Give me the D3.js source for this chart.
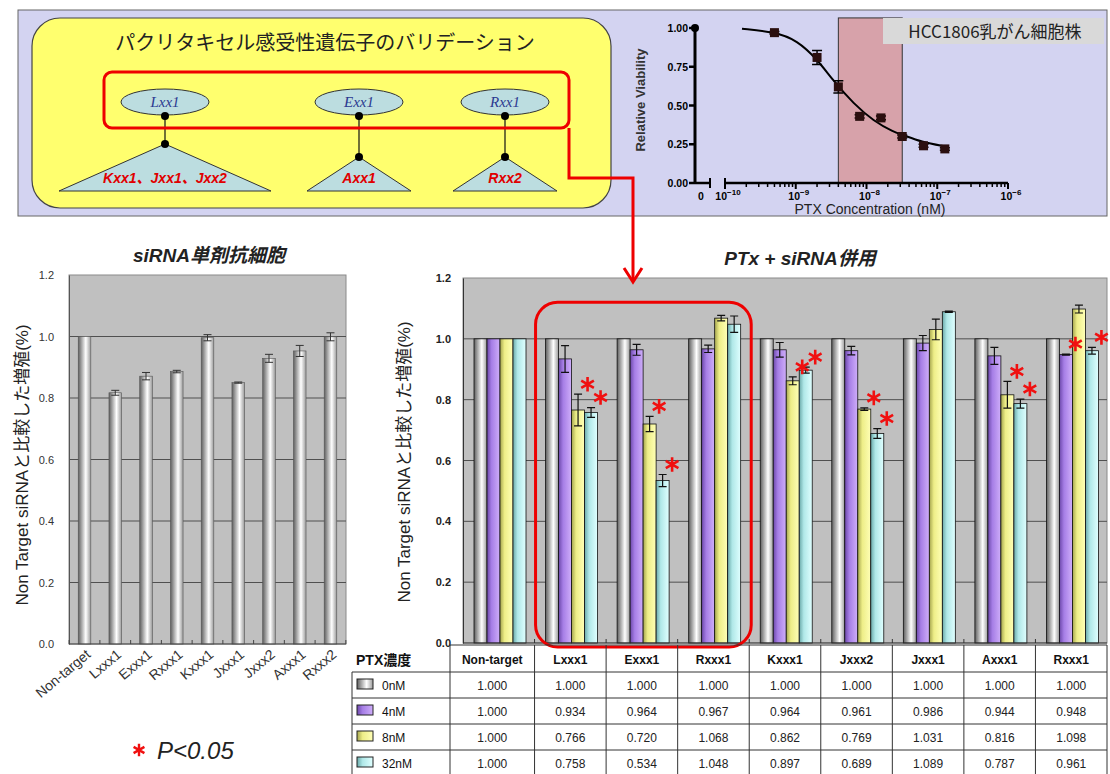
<!DOCTYPE html>
<html>
<head>
<meta charset="utf-8">
<script src="https://cdn.jsdelivr.net/npm/d3@7"></script>
<style>
  body { margin: 0; background: #fff; }
  svg { display: block; font-family: "Liberation Sans", Arial, "Noto Sans CJK JP", sans-serif; }
</style>
</head>
<body>
<div id="chart"></div>
<script>
// ---- data ----

// tree diagram
var geneNames = ["Lxx1", "Exx1", "Rxx1"]
var geneTargets = ["Kxx1、Jxx1、Jxx2", "Axx1", "Rxx2"]

// dose response (HCC1806), concentrations in M
var doseConc = [0.5e-9, 2e-9, 4e-9, 8e-9, 16e-9, 32e-9, 64e-9, 128e-9]
var doseViability = [0.97, 0.81, 0.62, 0.43, 0.42, 0.30, 0.24, 0.22]
var doseErr = [0.008, 0.045, 0.04, 0.01, 0.012, 0.01, 0.01, 0.008]
var controlViability = 1.0
var fitLogConc = [-9.76, -9.29, -8.98, -8.70, -8.47, -8.18, -7.90, -7.62, -7.48, -7.23, -6.88]
var fitViability = [0.995, 0.975, 0.92, 0.80, 0.66, 0.51, 0.40, 0.33, 0.31, 0.265, 0.235]
var bandConc = [4e-9, 32e-9]
var doseTicks = [-10, -9, -8, -7, -6]

// siRNA alone
var soloCats = ["Non-target", "Lxxx1", "Exxx1", "Rxxx1", "Kxxx1", "Jxxx1", "Jxxx2", "Axxx1", "Rxxx2"]
var soloValues = [1.0, 0.817, 0.871, 0.886, 0.996, 0.85, 0.929, 0.953, 0.999]
var soloErrors = [0, 0.008, 0.012, 0.004, 0.01, 0.002, 0.013, 0.018, 0.013]

// PTX + siRNA
var comboCats = ["Non-target", "Lxxx1", "Exxx1", "Rxxx1", "Kxxx1", "Jxxx2", "Jxxx1", "Axxx1", "Rxxx1"]
var doseLabels = ["0nM", "4nM", "8nM", "32nM"]
var ptx0 = [1.000, 1.000, 1.000, 1.000, 1.000, 1.000, 1.000, 1.000, 1.000]
var ptx4 = [1.000, 0.934, 0.964, 0.967, 0.964, 0.961, 0.986, 0.944, 0.948]
var ptx8 = [1.000, 0.766, 0.720, 1.068, 0.862, 0.769, 1.031, 0.816, 1.098]
var ptx32 = [1.000, 0.758, 0.534, 1.048, 0.897, 0.689, 1.089, 0.787, 0.961]
var err0 = [0, 0, 0, 0, 0, 0, 0, 0, 0]
var err4 = [0, 0.044, 0.018, 0.012, 0.024, 0.014, 0.025, 0.028, 0.002]
var err8 = [0, 0.052, 0.025, 0.009, 0.013, 0.004, 0.034, 0.044, 0.013]
var err32 = [0, 0.016, 0.02, 0.027, 0.01, 0.016, 0.002, 0.015, 0.011]
// [category index, series index] of the red asterisks
var sigMarks = [[1, 2], [1, 3], [2, 2], [2, 3], [4, 2], [4, 3], [5, 2], [5, 3], [7, 2], [7, 3], [8, 1], [8, 3]]

var yTicks = [0, 0.2, 0.4, 0.6, 0.8, 1.0, 1.2]

var series = [ptx0, ptx4, ptx8, ptx32]
var seriesErr = [err0, err4, err8, err32]

var svg = d3.select('#chart').append('svg')
            .attr('width', 1110)
            .attr('height', 774)
var defs = svg.append('defs')

function addGrad(id, stops) {
  var g = defs.append('linearGradient').attr('id', id)
              .attr('x1', '0').attr('x2', '1').attr('y1', '0').attr('y2', '0')
  stops.forEach(function(s) {
    g.append('stop').attr('offset', s[0]).attr('stop-color', s[1])
  })
}
addGrad('g-gray', [[0, '#5e5e5e'], [0.6, '#ffffff'], [1, '#9a9a9a']])
addGrad('g-purple', [[0, '#6c48aa'], [0.35, '#a67ee6'], [1, '#cfaefa']])
addGrad('g-yellow', [[0, '#a5a54e'], [0.35, '#eeee88'], [1, '#ffffb6']])
addGrad('g-cyan', [[0, '#6aa9a9'], [0.35, '#b0e8e8'], [1, '#e0ffff']])
var seriesFill = ['url(#g-gray)', 'url(#g-purple)', 'url(#g-yellow)', 'url(#g-cyan)']

function errPath(x, y1, y2, w) {
  return 'M' + x + ',' + y1 + 'V' + y2 + 'M' + (x - w) + ',' + y1 + 'H' + (x + w) +
         'M' + (x - w) + ',' + y2 + 'H' + (x + w)
}

// ---------------- top panel ----------------
svg.append('rect')
   .attr('x', 18).attr('y', 10).attr('width', 1089).attr('height', 206)
   .attr('fill', '#d3d3f1').attr('stroke', '#666')

svg.append('rect')
   .attr('x', 32).attr('y', 18).attr('width', 579).attr('height', 190).attr('rx', 28)
   .attr('fill', '#ffff6e').attr('stroke', '#444').attr('stroke-width', 1.2)

svg.append('text')
   .attr('x', 325).attr('y', 50)
   .attr('text-anchor', 'middle')
   .style('font-family', '"Noto Sans CJK JP", sans-serif')
   .style('font-size', '20px').attr('fill', '#222')
   .text('パクリタキセル感受性遺伝子のバリデーション')

var treeX = [165, 359, 505]
var treeApex = [144, 157, 157]
var treeHalf = [106, 52, 52]

var tree = svg.selectAll('.tree')
              .data(geneNames)
              .enter().append('g')
              .attr('class', 'tree')

tree.append('line')
    .attr('x1', function(d, i) { return treeX[i] })
    .attr('x2', function(d, i) { return treeX[i] })
    .attr('y1', 115).attr('y2', function(d, i) { return treeApex[i] })
    .attr('stroke', '#111').attr('stroke-width', 1.2)

tree.append('path')
    .attr('d', function(d, i) {
      return 'M' + treeX[i] + ',' + treeApex[i] + 'L' + (treeX[i] + treeHalf[i]) + ',191L' +
             (treeX[i] - treeHalf[i]) + ',191Z'
    })
    .attr('fill', '#bcdde0').attr('stroke', '#333')

tree.append('ellipse')
    .attr('cx', function(d, i) { return treeX[i] })
    .attr('cy', 102).attr('rx', 44).attr('ry', 13)
    .attr('fill', '#bcdde0').attr('stroke', '#333')

tree.append('text')
    .attr('x', function(d, i) { return treeX[i] })
    .attr('y', 107)
    .attr('text-anchor', 'middle')
    .style('font-family', '"Liberation Serif", serif')
    .style('font-style', 'italic').style('font-size', '15px')
    .attr('fill', '#2b3990')
    .text(function(d) { return d })

tree.append('circle')
    .attr('cx', function(d, i) { return treeX[i] }).attr('cy', 116).attr('r', 4).attr('fill', '#000')
tree.append('circle')
    .attr('cx', function(d, i) { return treeX[i] }).attr('cy', function(d, i) { return treeApex[i] })
    .attr('r', 4).attr('fill', '#000')

tree.append('text')
    .attr('x', function(d, i) { return treeX[i] })
    .attr('y', 183)
    .attr('text-anchor', 'middle')
    .style('font-style', 'italic').style('font-weight', 'bold').style('font-size', '14px')
    .attr('fill', '#e00000')
    .text(function(d, i) { return geneTargets[i] })

// red frame
svg.append('rect')
   .attr('x', 104).attr('y', 72).attr('width', 465).attr('height', 56).attr('rx', 8)
   .attr('fill', 'none').attr('stroke', '#ee0000').attr('stroke-width', 3)

// ---------------- dose response ----------------
var dx = d3.scaleLog().domain([1e-10, 1e-6]).range([725, 1008])
var dy = d3.scaleLinear().domain([0, 1]).range([183, 28])

svg.append('rect')
   .attr('x', dx(bandConc[0])).attr('y', dy(1.065))
   .attr('width', dx(bandConc[1]) - dx(bandConc[0]))
   .attr('height', dy(0) - dy(1.065))
   .attr('fill', '#d7a2aa').attr('stroke', '#333')

svg.append('rect')
   .attr('x', 883).attr('y', 18).attr('width', 221).attr('height', 26)
   .attr('fill', '#d9d9d9')
svg.append('text')
   .attr('x', 995).attr('y', 38).attr('text-anchor', 'middle')
   .style('font-family', '"Noto Sans CJK JP", sans-serif').style('font-size', '17px')
   .attr('fill', '#222')
   .text('HCC1806乳がん細胞株')

// y axis
svg.append('line')
   .attr('x1', 695).attr('x2', 695).attr('y1', dy(1)).attr('y2', dy(0))
   .attr('stroke', '#000').attr('stroke-width', 3)
var dyt = svg.selectAll('.dyt').data([0, 0.25, 0.5, 0.75, 1]).enter().append('g').attr('class', 'dyt')
dyt.append('line')
   .attr('x1', 689).attr('x2', 695)
   .attr('y1', function(d) { return dy(d) }).attr('y2', function(d) { return dy(d) })
   .attr('stroke', '#000').attr('stroke-width', 2.5)
dyt.append('text')
   .attr('x', 688).attr('y', function(d) { return dy(d) + 4 })
   .attr('text-anchor', 'end')
   .style('font-weight', 'bold').style('font-size', '10.5px')
   .text(function(d) { return d3.format('.2f')(d) })

svg.append('text')
   .attr('transform', 'translate(645,100) rotate(-90)')
   .attr('text-anchor', 'middle')
   .style('font-weight', 'bold').style('font-size', '13px').attr('fill', '#333')
   .text('Relative Viability')

// x axis (with break after zero)
svg.append('line').attr('x1', 695).attr('x2', 710).attr('y1', 183).attr('y2', 183)
   .attr('stroke', '#000').attr('stroke-width', 2.5)
svg.append('line').attr('x1', 710).attr('x2', 710).attr('y1', 178).attr('y2', 188)
   .attr('stroke', '#000').attr('stroke-width', 2)
svg.append('line').attr('x1', dx.range()[0]).attr('x2', dx.range()[1]).attr('y1', 183).attr('y2', 183)
   .attr('stroke', '#000').attr('stroke-width', 2.5)
svg.append('line').attr('x1', 725).attr('x2', 725).attr('y1', 178).attr('y2', 188)
   .attr('stroke', '#000').attr('stroke-width', 2)

var minorTicks = []
doseTicks.slice(0, -1).forEach(function(e) {
  for (var m = 2; m <= 9; m++) minorTicks.push(m * Math.pow(10, e))
})
svg.selectAll('.dminor').data(minorTicks).enter().append('line')
   .attr('x1', function(d) { return dx(d) }).attr('x2', function(d) { return dx(d) })
   .attr('y1', 183).attr('y2', 187)
   .attr('stroke', '#000').attr('stroke-width', 1.5)
svg.selectAll('.dmajor').data(doseTicks).enter().append('line')
   .attr('x1', function(d) { return dx(Math.pow(10, d)) }).attr('x2', function(d) { return dx(Math.pow(10, d)) })
   .attr('y1', 183).attr('y2', 189)
   .attr('stroke', '#000').attr('stroke-width', 2)

var dxl = svg.selectAll('.dxl').data(doseTicks).enter().append('text')
   .attr('x', function(d) { return dx(Math.pow(10, d)) + 3 })
   .attr('y', 200)
   .attr('text-anchor', 'middle')
   .style('font-weight', 'bold').style('font-size', '10.5px')
dxl.append('tspan').text('10')
dxl.append('tspan').attr('dy', -5).style('font-size', '8px').text(function(d) { return '−' + (-d) })
svg.append('text').attr('x', 701).attr('y', 200).attr('text-anchor', 'middle')
   .style('font-weight', 'bold').style('font-size', '10.5px').text('0')

svg.append('text')
   .attr('x', 870).attr('y', 214).attr('text-anchor', 'middle')
   .style('font-size', '14px').attr('fill', '#222')
   .text('PTX Concentration (nM)')

// fitted curve
var fitLine = d3.line()
                .x(function(d, i) { return dx(Math.pow(10, fitLogConc[i])) })
                .y(function(d) { return dy(d) })
                .curve(d3.curveBasis)
svg.append('path')
   .attr('d', fitLine(fitViability))
   .attr('fill', 'none').attr('stroke', '#000').attr('stroke-width', 2)

var dpt = svg.selectAll('.dpt').data(doseViability).enter().append('g').attr('class', 'dpt')
dpt.append('path')
   .attr('d', function(d, i) {
     return errPath(dx(doseConc[i]), dy(d + doseErr[i]), dy(d - doseErr[i]), 5)
   })
   .attr('stroke', '#000').attr('stroke-width', 1.5)
dpt.append('rect')
   .attr('x', function(d, i) { return dx(doseConc[i]) - 4.5 })
   .attr('y', function(d) { return dy(d) - 4.5 })
   .attr('width', 9).attr('height', 9)
   .attr('fill', '#2b0f0f')
svg.append('circle').attr('cx', 695).attr('cy', dy(controlViability)).attr('r', 4).attr('fill', '#000')

// ---------------- left chart: siRNA alone ----------------
var lx = d3.scaleBand().domain(soloCats).range([69, 346]).paddingInner(0.59).paddingOuter(0.3)
var ly = d3.scaleLinear().domain([0, 1.2]).range([644, 275])

svg.append('rect')
   .attr('x', 69).attr('y', ly(1.2)).attr('width', 277).attr('height', ly(0) - ly(1.2))
   .attr('fill', '#c0c0c0').attr('stroke', '#8a8a8a')

svg.selectAll('.lgrid').data(yTicks.slice(1, -1)).enter().append('line')
   .attr('x1', 69).attr('x2', 346)
   .attr('y1', function(d) { return ly(d) }).attr('y2', function(d) { return ly(d) })
   .attr('stroke', '#505050')

svg.append('g')
   .attr('transform', 'translate(69,0)')
   .call(d3.axisLeft(ly).tickValues(yTicks).tickSize(0).tickPadding(15).tickFormat(d3.format('.1f')))
   .call(function(g) { g.select('.domain').attr('stroke', '#555') })
   .selectAll('text').style('font-size', '11px').attr('fill', '#333')

var solo = soloCats.map(function(c, i) { return { cat: c, v: soloValues[i], e: soloErrors[i] } })

svg.selectAll('.lbar').data(solo).enter().append('rect')
   .attr('x', function(d) { return lx(d.cat) })
   .attr('y', function(d) { return ly(d.v) })
   .attr('width', lx.bandwidth())
   .attr('height', function(d) { return ly(0) - ly(d.v) })
   .attr('fill', 'url(#g-gray)').attr('stroke', '#555').attr('stroke-width', 0.6)

svg.selectAll('.lerr').data(solo.filter(function(d) { return d.e > 0 })).enter().append('path')
   .attr('d', function(d) {
     return errPath(lx(d.cat) + lx.bandwidth() / 2, ly(d.v + d.e), ly(d.v - d.e), 4)
   })
   .attr('fill', 'none').attr('stroke', '#333').attr('stroke-width', 1)

svg.append('line').attr('x1', 69).attr('x2', 346).attr('y1', ly(0)).attr('y2', ly(0))
   .attr('stroke', '#444')
svg.selectAll('.ltick').data(d3.range(soloCats.length + 1)).enter().append('line')
   .attr('x1', function(d) { return lx(soloCats[0]) - lx.step() * lx.paddingInner() / 2 + d * lx.step() })
   .attr('x2', function(d) { return lx(soloCats[0]) - lx.step() * lx.paddingInner() / 2 + d * lx.step() })
   .attr('y1', ly(0)).attr('y2', ly(0) - 4)
   .attr('stroke', '#444')

svg.selectAll('.lxl').data(soloCats).enter().append('text')
   .attr('transform', function(d) {
     return 'translate(' + (lx(d) + lx.bandwidth() / 2 + 7) + ',' + (ly(0) + 12) + ') rotate(-40)'
   })
   .attr('text-anchor', 'end')
   .style('font-size', '14px').attr('fill', '#333')
   .text(function(d) { return d })

svg.append('text')
   .attr('transform', 'translate(28,465) rotate(-90)')
   .attr('text-anchor', 'middle')
   .style('font-size', '17px').attr('fill', '#222')
   .text('Non Target siRNAと比較した増殖(%)')

svg.append('text')
   .attr('x', 209).attr('y', 262).attr('text-anchor', 'middle')
   .style('font-weight', 'bold').style('font-style', 'italic').style('font-size', '19px')
   .attr('fill', '#222')
   .text('siRNA単剤抗細胞')

// ---------------- right chart: PTX + siRNA ----------------
var gx = d3.scaleBand().domain(d3.range(comboCats.length)).range([463, 1107])
var bx = d3.scaleBand().domain(d3.range(doseLabels.length)).range([11, 63])
var ry = d3.scaleLinear().domain([0, 1.2]).range([643, 278])

svg.append('rect')
   .attr('x', 463).attr('y', ry(1.2)).attr('width', 644).attr('height', ry(0) - ry(1.2))
   .attr('fill', '#c0c0c0').attr('stroke', '#8a8a8a')

svg.selectAll('.rgrid').data(yTicks.slice(1, -1)).enter().append('line')
   .attr('x1', 463).attr('x2', 1107)
   .attr('y1', function(d) { return ry(d) }).attr('y2', function(d) { return ry(d) })
   .attr('stroke', '#505050')

svg.append('g')
   .attr('transform', 'translate(463,0)')
   .call(d3.axisLeft(ry).tickValues(yTicks).tickSize(0).tickPadding(12).tickFormat(d3.format('.1f')))
   .call(function(g) { g.select('.domain').attr('stroke', '#333') })
   .selectAll('text').style('font-size', '11px').style('font-weight', 'bold').attr('fill', '#222')

var groups = svg.selectAll('.grp')
                .data(comboCats)
                .enter().append('g')
                .attr('class', 'grp')
                .attr('transform', function(d, i) { return 'translate(' + gx(i) + ',0)' })

function groupData(d, i) {
  return series.map(function(s, k) { return { k: k, v: s[i], e: seriesErr[k][i] } })
}

groups.selectAll('rect')
      .data(groupData)
      .enter().append('rect')
      .attr('x', function(d) { return bx(d.k) })
      .attr('y', function(d) { return ry(d.v) })
      .attr('width', bx.bandwidth())
      .attr('height', function(d) { return ry(0) - ry(d.v) })
      .attr('fill', function(d) { return seriesFill[d.k] })
      .attr('stroke', '#111').attr('stroke-width', 0.8)

groups.selectAll('path')
      .data(function(d, i) { return groupData(d, i).filter(function(b) { return b.e > 0 }) })
      .enter().append('path')
      .attr('d', function(d) {
        return errPath(bx(d.k) + bx.bandwidth() / 2, ry(d.v + d.e), ry(d.v - d.e), 4)
      })
      .attr('fill', 'none').attr('stroke', '#111').attr('stroke-width', 1.2)

svg.append('line').attr('x1', 463).attr('x2', 1107).attr('y1', ry(0)).attr('y2', ry(0))
   .attr('stroke', '#333')
svg.selectAll('.rtick').data(d3.range(1, comboCats.length)).enter().append('line')
   .attr('x1', function(d) { return gx(d) }).attr('x2', function(d) { return gx(d) })
   .attr('y1', ry(0)).attr('y2', ry(0) - 4)
   .attr('stroke', '#333')

var star = d3.symbol().type(d3.symbolAsterisk).size(150)
svg.selectAll('.sig').data(sigMarks).enter().append('path')
   .attr('d', star)
   .attr('transform', function(d) {
     var v = series[d[1]][d[0]], e = seriesErr[d[1]][d[0]]
     return 'translate(' + (gx(d[0]) + bx(d[1]) + bx.bandwidth() + 3) + ',' + (ry(v + e) - 10) + ')'
   })
   .attr('fill', 'none').attr('stroke', '#f01010').attr('stroke-width', 2.6)

// red highlight around Lxxx1..Rxxx1
svg.append('rect')
   .attr('x', gx(1) + 1).attr('y', ry(1.12))
   .attr('width', gx(4) - gx(1) + 1).attr('height', ry(0) + 4 - ry(1.12))
   .attr('rx', 22)
   .attr('fill', 'none').attr('stroke', '#ee0000').attr('stroke-width', 3)

svg.append('text')
   .attr('transform', 'translate(410,462) rotate(-90)')
   .attr('text-anchor', 'middle')
   .style('font-size', '17px').attr('fill', '#222')
   .text('Non Target siRNAと比較した増殖(%)')

svg.append('text')
   .attr('x', 800).attr('y', 265).attr('text-anchor', 'middle')
   .style('font-weight', 'bold').style('font-style', 'italic').style('font-size', '19px')
   .attr('fill', '#222')
   .text('PTx + siRNA併用')

// connector from the red frame down to the combination chart
svg.append('path')
   .attr('d', 'M569,128V178H633V281')
   .attr('fill', 'none').attr('stroke', '#ee0000').attr('stroke-width', 3)
svg.append('path')
   .attr('d', 'M624,268L633,282L642,268')
   .attr('fill', 'none').attr('stroke', '#ee0000').attr('stroke-width', 3)

// ---------------- data table ----------------
var colEdges = [450].concat(d3.range(1, comboCats.length).map(function(i) { return gx(i) })).concat([1107])
var rowEdges = [645, 672, 698, 724, 750, 776]
var table = svg.append('g').attr('class', 'table')

table.selectAll('.vcol').data(colEdges).enter().append('line')
     .attr('x1', function(d) { return d }).attr('x2', function(d) { return d })
     .attr('y1', rowEdges[0]).attr('y2', rowEdges[5])
     .attr('stroke', '#333')
table.append('line').attr('x1', 352).attr('x2', 352).attr('y1', rowEdges[1]).attr('y2', rowEdges[5])
     .attr('stroke', '#333')
table.selectAll('.hrow').data(rowEdges.slice(1)).enter().append('line')
     .attr('x1', 352).attr('x2', 1107)
     .attr('y1', function(d) { return d }).attr('y2', function(d) { return d })
     .attr('stroke', '#333')
table.append('line').attr('x1', 450).attr('x2', 1107).attr('y1', rowEdges[0]).attr('y2', rowEdges[0])
     .attr('stroke', '#333')

table.append('text').attr('x', 356).attr('y', 665)
     .style('font-weight', 'bold').style('font-size', '14px').attr('fill', '#111')
     .text('PTX濃度')

table.selectAll('.chead').data(comboCats).enter().append('text')
     .attr('x', function(d, i) { return (colEdges[i] + colEdges[i + 1]) / 2 })
     .attr('y', 664).attr('text-anchor', 'middle')
     .style('font-weight', 'bold').style('font-size', '12px').attr('fill', '#111')
     .text(function(d) { return d })

var rows = table.selectAll('.trow').data(doseLabels).enter().append('g')
                .attr('class', 'trow')
                .attr('transform', function(d, i) { return 'translate(0,' + rowEdges[i + 1] + ')' })
rows.append('rect')
    .attr('x', 357).attr('y', 7).attr('width', 16).attr('height', 10)
    .attr('fill', function(d, i) { return seriesFill[i] }).attr('stroke', '#222')
rows.append('text')
    .attr('x', 382).attr('y', 18)
    .style('font-size', '12px').attr('fill', '#111')
    .text(function(d) { return d })
rows.selectAll('.val')
    .data(function(d, i) { return series[i] })
    .enter().append('text')
    .attr('x', function(d, j) { return (colEdges[j] + colEdges[j + 1]) / 2 })
    .attr('y', 18).attr('text-anchor', 'middle')
    .style('font-size', '12px').attr('fill', '#222')
    .text(function(d) { return d3.format('.3f')(d) })

// legend for significance
svg.append('path')
   .attr('d', d3.symbol().type(d3.symbolAsterisk).size(110))
   .attr('transform', 'translate(139,750)')
   .attr('fill', 'none').attr('stroke', '#f01010').attr('stroke-width', 2.4)
svg.append('text')
   .attr('x', 157).attr('y', 759)
   .style('font-style', 'italic').style('font-size', '24px').attr('fill', '#222')
   .text('P<0.05')
</script>
</body>
</html>
